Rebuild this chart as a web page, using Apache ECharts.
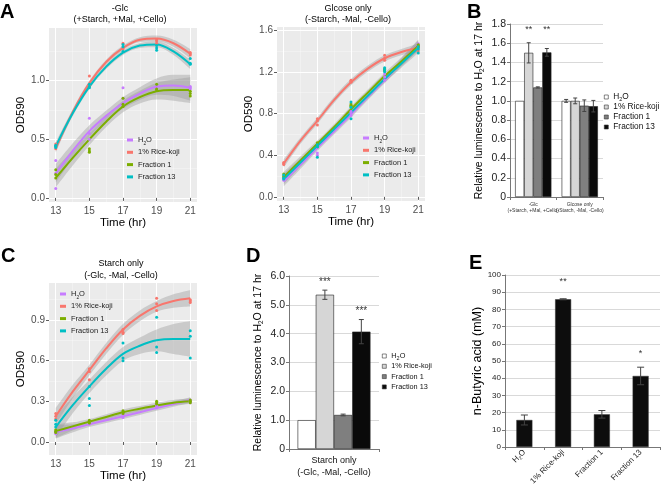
<!DOCTYPE html>
<html>
<head>
<meta charset="utf-8">
<script src="https://cdn.jsdelivr.net/npm/echarts@6/dist/echarts.min.js"></script>
<style>html,body{margin:0;padding:0;background:#fff}#main{width:661px;height:490px}</style>
</head>
<body>
<div id="main"></div>
<script>
var FONT = '"Liberation Sans", Arial, Helvetica, sans-serif';
var groups = ['H2O', '1% Rice-koji', 'Fraction 1', 'Fraction 13'];
var lineColors = ['#C77CFF', '#F8766D', '#7CAE00', '#00BFC4'];
var barColors = ['#FFFFFF', '#D6D6D6', '#7F7F7F', '#0A0A0A'];

// time axis
var sampleTimes = [13, 15, 17, 19, 21];
var fitTimes = [13, 14, 15, 16, 17, 18, 19, 20, 21];
var timeTicks = [13, 15, 17, 19, 21];
var timeMinor = [14, 16, 18, 20];

// ---- A left: -Glc (+Starch, +Mal, +Cello)
var a1Ticks = [0, 0.5, 1.0];
var a1Minor = [0.25, 0.75, 1.25];
var a1PtsH2O = [[0.32, 0.21, 0.08], [0.68, 0.55, 0.50], [0.94, 0.85, 0.80], [0.95, 0.93, 0.96], [0.94, 0.93, 0.95]];
var a1PtsRice = [[0.42, 0.44, 0.46], [1.04, 0.96, 0.95], [1.32, 1.28, 1.27], [1.32, 1.35, 1.34], [1.23, 1.22, 1.24]];
var a1PtsF1 = [[0.24, 0.20, 0.17], [0.42, 0.40, 0.39], [0.85, 0.80, 0.78], [0.97, 0.92, 0.93], [0.89, 0.87, 0.91]];
var a1PtsF13 = [[0.45, 0.43, 0.44], [0.97, 0.95, 0.94], [1.31, 1.29, 1.25], [1.28, 1.26, 1.30], [1.19, 1.14, 1.15]];
var a1FitH2O = [0.21, 0.40, 0.57, 0.70, 0.81, 0.89, 0.95, 0.96, 0.94];
var a1FitRice = [0.42, 0.73, 0.98, 1.16, 1.28, 1.35, 1.36, 1.32, 1.23];
var a1FitF1 = [0.17, 0.34, 0.50, 0.65, 0.78, 0.86, 0.91, 0.92, 0.92];
var a1FitF13 = [0.44, 0.72, 0.95, 1.12, 1.24, 1.30, 1.31, 1.25, 1.14];
var a1SeH2O = [0.08, 0.065, 0.05, 0.045, 0.05, 0.055, 0.07, 0.09, 0.11];
var a1SeRice = [0.035, 0.025, 0.02, 0.02, 0.02, 0.02, 0.025, 0.03, 0.04];
var a1SeF1 = [0.08, 0.065, 0.05, 0.045, 0.05, 0.055, 0.07, 0.09, 0.11];
var a1SeF13 = [0.035, 0.025, 0.02, 0.02, 0.02, 0.02, 0.025, 0.03, 0.04];

// ---- A right: Glcose only (-Starch, -Mal, -Cello)
var a2Ticks = [0, 0.4, 0.8, 1.2, 1.6];
var a2Minor = [0.2, 0.6, 1.0, 1.4];
var a2PtsH2O = [[0.17, 0.18, 0.16], [0.42, 0.40, 0.47], [0.82, 0.80, 0.78], [1.18, 1.15, 1.12], [1.47, 1.45, 1.43]];
var a2PtsRice = [[0.33, 0.32, 0.31], [0.73, 0.69, 0.75], [1.12, 1.10, 1.11], [1.36, 1.33, 1.31], [1.42, 1.40, 1.43]];
var a2PtsF1 = [[0.22, 0.20, 0.19], [0.50, 0.48, 0.52], [0.88, 0.87, 0.89], [1.22, 1.21, 1.23], [1.46, 1.44, 1.45]];
var a2PtsF13 = [[0.21, 0.18, 0.17], [0.38, 0.48, 0.50], [0.91, 0.75, 0.86], [1.24, 1.22, 1.20], [1.38, 1.42, 1.44]];
var a2FitH2O = [0.15, 0.31, 0.47, 0.63, 0.79, 0.96, 1.12, 1.29, 1.46];
var a2FitRice = [0.32, 0.54, 0.73, 0.93, 1.10, 1.23, 1.33, 1.39, 1.43];
var a2FitF1 = [0.19, 0.35, 0.51, 0.67, 0.84, 1.00, 1.16, 1.30, 1.45];
var a2FitF13 = [0.17, 0.33, 0.49, 0.65, 0.81, 0.97, 1.13, 1.28, 1.43];
var a2SeH2O = [0.05, 0.04, 0.03, 0.03, 0.03, 0.03, 0.03, 0.04, 0.05];
var a2SeRice = [0.04, 0.03, 0.03, 0.03, 0.03, 0.03, 0.03, 0.03, 0.04];
var a2SeF1 = [0.05, 0.04, 0.03, 0.03, 0.03, 0.03, 0.03, 0.04, 0.05];
var a2SeF13 = [0.05, 0.04, 0.03, 0.03, 0.03, 0.03, 0.03, 0.04, 0.05];

// ---- C: Starch only (-Glc, -Mal, -Cello)
var cTicks = [0, 0.3, 0.6, 0.9];
var cMinor = [0.15, 0.45, 0.75, 1.05];
var cPtsH2O = [[0.07, 0.08, 0.06], [0.14, 0.13, 0.15], [0.18, 0.20, 0.21], [0.26, 0.25, 0.27], [0.30, 0.31, 0.29]];
var cPtsRice = [[0.21, 0.19, 0.17], [0.52, 0.46, 0.54], [0.83, 0.81, 0.80], [1.06, 1.02, 0.97], [1.04, 1.03, 1.05]];
var cPtsF1 = [[0.08, 0.09, 0.07], [0.15, 0.16, 0.14], [0.22, 0.21, 0.23], [0.30, 0.29, 0.28], [0.29, 0.30, 0.31]];
var cPtsF13 = [[0.16, 0.13, 0.11], [0.32, 0.27, 0.41], [0.73, 0.60, 0.62], [0.92, 0.66, 0.70], [0.82, 0.62, 0.78]];
var cFitH2O = [0.075, 0.10, 0.13, 0.16, 0.19, 0.22, 0.25, 0.28, 0.31];
var cFitRice = [0.19, 0.37, 0.53, 0.69, 0.83, 0.93, 1.00, 1.04, 1.06];
var cFitF1 = [0.08, 0.115, 0.15, 0.185, 0.22, 0.245, 0.27, 0.29, 0.30];
var cFitF13 = [0.11, 0.27, 0.41, 0.54, 0.65, 0.71, 0.75, 0.76, 0.76];
var cSeH2O = [0.05, 0.03, 0.02, 0.02, 0.02, 0.02, 0.02, 0.02, 0.02];
var cSeRice = [0.06, 0.05, 0.04, 0.04, 0.04, 0.04, 0.04, 0.05, 0.06];
var cSeF1 = [0.05, 0.03, 0.02, 0.02, 0.02, 0.02, 0.02, 0.02, 0.02];
var cSeF13 = [0.08, 0.06, 0.05, 0.05, 0.05, 0.06, 0.08, 0.11, 0.13];

// ---- B: relative luminescence
var bCats = ['-Glc\n(+Starch, +Mal, +Cello)', 'Glcose only\n(-Starch, -Mal, -Cello)'];
var bH2O = [1.0, 1.0], bH2OErr = [0, 0.015];
var bRice = [1.5, 1.0], bRiceErr = [0.105, 0.03];
var bF1 = [1.14, 0.95], bF1Err = [0.006, 0.06];
var bF13 = [1.505, 0.945], bF13Err = [0.04, 0.06];
var bStarsRice = ['**', ''], bStarsF13 = ['**', ''];
var bStarLevel = [1.74, 0];

// ---- D: starch only luminescence
var dCats = ['Starch only\n(-Glc, -Mal, -Cello)'];
var dH2O = [1.0], dH2OErr = [0];
var dRice = [5.35], dRiceErr = [0.16];
var dF1 = [1.18], dF1Err = [0.03];
var dF13 = [4.07], dF13Err = [0.42];
var dStarsRice = ['***'], dStarsF13 = ['***'];
var dStarRice = [5.79], dStarF13 = [4.79];

// ---- E: n-butyric acid
var eCats = ['H2O', '1% Rice-koji', 'Fraction 1', 'Fraction 13'];
var eVals = [15.7, 85.9, 19.0, 41.3];
var eErr = [2.9, 0.3, 2.2, 5.1];
var eStars = ['', '**', '', '*'];
var eStarLevel = [0, 96, 0, 54.5];

function subRich(fs) {
  return {
    n: { fontFamily: FONT, fontSize: fs, lineHeight: 12 },
    s: { fontFamily: FONT, fontSize: fs * 0.65, lineHeight: 6, verticalAlign: 'bottom' }
  };
}
function richName(name) {
  name = name.replace('bar:', '');
  if (name === 'H2O') return '{n|H}{s|2}{n|O}';
  return '{n|' + name + '}';
}

function ggAxes(grid, min, max, ticks, minor, name, isX) {
  var main = {
    type: 'value', gridIndex: grid, min: min, max: max,
    axisLine: { show: false },
    axisTick: { show: true, length: 3, customValues: ticks, lineStyle: { color: '#333', width: 0.8 } },
    axisLabel: {
      customValues: ticks, color: '#4D4D4D', fontSize: 10, margin: 4, fontFamily: FONT,
      formatter: isX ? function (v) { return String(v); } : function (v) { return v.toFixed(1); }
    },
    splitLine: { show: true, lineStyle: { color: '#fff', width: 1 } },
    name: name, nameLocation: 'middle', nameGap: isX ? 14 : 22,
    nameTextStyle: { fontSize: 11.5, color: '#000', fontFamily: FONT }
  };
  var mnr = {
    type: 'value', gridIndex: grid, min: min, max: max, position: isX ? 'top' : 'right',
    axisLine: { show: false },
    axisTick: { show: false, customValues: minor },
    axisLabel: { show: false, customValues: minor },
    splitLine: { show: true, lineStyle: { color: 'rgba(255,255,255,0.6)', width: 0.5 } }
  };
  return [main, mnr];
}
// hidden axes of the ribbon grid: category over fit times, same value range
function ribbonAxes(grid, min, max) {
  return [
    { type: 'category', gridIndex: grid, data: fitTimes.map(String), boundaryGap: false, show: false },
    { type: 'value', gridIndex: grid, min: min, max: max, show: false, splitLine: { show: false } }
  ];
}

function ptsData(pts) {
  var d = [];
  sampleTimes.forEach(function (t, i) {
    pts[i].forEach(function (v) { d.push([t, v]); });
  });
  return d;
}

function smoothPanel(key, xi, yi, rxi, ryi, fits, ses, pts) {
  var out = [];
  groups.forEach(function (g, k) {
    out.push({
      type: 'line', name: 'ci-lo', xAxisIndex: rxi, yAxisIndex: ryi, stack: key + k,
      data: fitTimes.map(function (t, i) { return +(fits[k][i] - ses[k][i]).toFixed(4); }),
      smooth: 0.35, symbol: 'none', lineStyle: { opacity: 0 }, silent: true, z: 1
    });
    out.push({
      type: 'line', name: 'ci', xAxisIndex: rxi, yAxisIndex: ryi, stack: key + k, stackStrategy: 'all',
      data: fitTimes.map(function (t, i) { return +(2 * ses[k][i]).toFixed(4); }),
      smooth: 0.35, symbol: 'none', lineStyle: { opacity: 0 },
      areaStyle: { color: 'rgba(153,153,153,0.4)', opacity: 1 }, silent: true, z: 1
    });
  });
  groups.forEach(function (g, k) {
    out.push({
      type: 'line', name: g, xAxisIndex: xi, yAxisIndex: yi,
      data: fitTimes.map(function (t, i) { return [t, fits[k][i]]; }),
      smooth: 0.35, symbol: 'none', itemStyle: { color: lineColors[k] },
      lineStyle: { color: lineColors[k], width: 2 }, z: 3
    });
  });
  groups.forEach(function (g, k) {
    out.push({
      type: 'scatter', name: 'pt', xAxisIndex: xi, yAxisIndex: yi,
      data: ptsData(pts[k]), symbolSize: 3, itemStyle: { color: lineColors[k], opacity: 1 }, z: 4, silent: true
    });
  });
  return out;
}

function errSeries(xi, yi, vals, errs, k, n, gap, capW, stars, starLv, starSize) {
  return {
    type: 'custom', xAxisIndex: xi, yAxisIndex: yi, z: 10, silent: true,
    data: vals.map(function (v, i) { return [i, v, errs[i]]; }),
    renderItem: function (params, api) {
      var i = api.value(0), v = api.value(1), e = api.value(2);
      var c = api.coord([i, v]);
      var bw = api.size([1, 0])[0];
      var gw = bw * (1 - gap);
      var x = c[0] - gw / 2 + gw / n * (k + 0.5);
      var ch = [];
      if (e > 0) {
        var t = api.coord([i, v + e])[1], b = api.coord([i, v - e])[1];
        var st = { stroke: '#444', lineWidth: 1 };
        ch.push({ type: 'line', shape: { x1: x, y1: t, x2: x, y2: b }, style: st });
        ch.push({ type: 'line', shape: { x1: x - capW / 2, y1: t, x2: x + capW / 2, y2: t }, style: st });
        ch.push({ type: 'line', shape: { x1: x - capW / 2, y1: b, x2: x + capW / 2, y2: b }, style: st });
      }
      var s = stars ? stars[params.dataIndex] : '';
      if (s) {
        var sy = api.coord([i, starLv[params.dataIndex]])[1];
        ch.push({ type: 'text', style: { x: x, y: sy, text: s, fill: '#333', font: starSize + 'px ' + FONT, align: 'center', verticalAlign: 'middle' } });
      }
      return { type: 'group', children: ch };
    }
  };
}

function barAxisY(grid, max, interval, fs, name, nameGap, nameFs) {
  return {
    type: 'value', gridIndex: grid, min: 0, max: max, interval: interval,
    axisLine: { show: true, lineStyle: { color: '#777', width: 1 } },
    axisTick: { show: true, length: 3, lineStyle: { color: '#777' } },
    axisLabel: { color: '#222', fontSize: fs, fontFamily: FONT, margin: 4,
      formatter: function (v) { return (interval < 5 && v !== 0) ? v.toFixed(1) : String(v); } },
    splitLine: { show: true, lineStyle: { color: '#D9D9D9', width: 1 } },
    name: name, nameLocation: 'middle', nameGap: nameGap,
    nameTextStyle: { fontSize: nameFs, color: '#000', fontFamily: FONT,
      rich: { n: { fontSize: nameFs, fontFamily: FONT, lineHeight: 14 }, s: { fontSize: nameFs * 0.62, fontFamily: FONT, lineHeight: 8, verticalAlign: 'bottom' } } }
  };
}
function barAxisX(grid, cats, labelOpt) {
  return {
    type: 'category', gridIndex: grid, data: cats,
    axisLine: { show: true, lineStyle: { color: '#777', width: 1 } },
    axisTick: { show: true, length: 3, lineStyle: { color: '#777' } },
    axisLabel: labelOpt
  };
}

var xA1 = ggAxes(0, 12.6, 21.4, timeTicks, timeMinor, 'Time (hr)', true);
var yA1 = ggAxes(0, -0.035, 1.45, a1Ticks, a1Minor, 'OD590', false);
var xA2 = ggAxes(1, 12.6, 21.4, timeTicks, timeMinor, 'Time (hr)', true);
var yA2 = ggAxes(1, -0.04, 1.63, a2Ticks, a2Minor, 'OD590', false);
var xC = ggAxes(3, 12.6, 21.4, timeTicks, timeMinor, 'Time (hr)', true);
var yC = ggAxes(3, -0.096, 1.173, cTicks, cMinor, 'OD590', false);
var rA1 = ribbonAxes(6, -0.035, 1.45);
var rA2 = ribbonAxes(7, -0.04, 1.63);
var rC = ribbonAxes(8, -0.096, 1.173);

var lumName = '{n|Relative luminescence to H}{s|2}{n|O at 17 hr}';

var xAxes = [xA1[0], xA1[1], xA2[0], xA2[1],
  barAxisX(2, bCats, { color: '#333', fontSize: 5, lineHeight: 6, margin: 5, fontFamily: FONT, interval: 0 }),
  xC[0], xC[1],
  barAxisX(4, dCats, { color: '#111', fontSize: 9, lineHeight: 11.5, margin: 6, fontFamily: FONT }),
  barAxisX(5, eCats, { color: '#222', fontSize: 8, margin: 4, rotate: 45, interval: 0, fontFamily: FONT,
    formatter: function (v) { return v === 'H2O' ? '{n|H}{s|2}{n|O}' : '{n|' + v + '}'; },
    rich: { n: { fontSize: 8, fontFamily: FONT, lineHeight: 10 }, s: { fontSize: 5, fontFamily: FONT, lineHeight: 5, verticalAlign: 'bottom' } } }),
  rA1[0], rA2[0], rC[0]
];
var yAxes = [yA1[0], yA1[1], yA2[0], yA2[1],
  barAxisY(2, 1.8, 0.2, 10.5, lumName, 24, 10.5),
  yC[0], yC[1],
  barAxisY(4, 6, 1, 10.5, lumName, 24, 10.5),
  barAxisY(5, 100, 10, 8, 'n-Butyric acid (mM)', 18, 12.5),
  rA1[1], rA2[1], rC[1]
];

var series = [];
series = series.concat(smoothPanel('a1', 0, 0, 9, 9,
  [a1FitH2O, a1FitRice, a1FitF1, a1FitF13], [a1SeH2O, a1SeRice, a1SeF1, a1SeF13], [a1PtsH2O, a1PtsRice, a1PtsF1, a1PtsF13]));
series = series.concat(smoothPanel('a2', 2, 2, 10, 10,
  [a2FitH2O, a2FitRice, a2FitF1, a2FitF13], [a2SeH2O, a2SeRice, a2SeF1, a2SeF13], [a2PtsH2O, a2PtsRice, a2PtsF1, a2PtsF13]));
series = series.concat(smoothPanel('c', 5, 5, 11, 11,
  [cFitH2O, cFitRice, cFitF1, cFitF13], [cSeH2O, cSeRice, cSeF1, cSeF13], [cPtsH2O, cPtsRice, cPtsF1, cPtsF13]));

var bVals = [bH2O, bRice, bF1, bF13], bErrs = [bH2OErr, bRiceErr, bF1Err, bF13Err];
var dVals = [dH2O, dRice, dF1, dF13], dErrs = [dH2OErr, dRiceErr, dF1Err, dF13Err];
var bGap = 0.22, dGap = 0.19;
groups.forEach(function (g, k) {
  series.push({ type: 'bar', name: 'bar:' + g, xAxisIndex: 4, yAxisIndex: 4, data: bVals[k],
    barGap: '0%', barCategoryGap: (bGap * 100) + '%',
    itemStyle: { color: barColors[k], borderColor: '#222', borderWidth: 0.6 }, silent: true });
  series.push({ type: 'bar', name: 'bar:' + g, xAxisIndex: 7, yAxisIndex: 7, data: dVals[k],
    barGap: '0%', barCategoryGap: (dGap * 100) + '%',
    itemStyle: { color: barColors[k], borderColor: '#222', borderWidth: 0.6 }, silent: true });
});
groups.forEach(function (g, k) {
  series.push(errSeries(4, 4, bVals[k], bErrs[k], k, 4, bGap, 4,
    k === 1 ? bStarsRice : (k === 3 ? bStarsF13 : null), bStarLevel, 9));
  series.push(errSeries(7, 7, dVals[k], dErrs[k], k, 4, dGap, 5,
    k === 1 ? dStarsRice : (k === 3 ? dStarsF13 : null), k === 1 ? dStarRice : dStarF13, 10));
});
series.push({ type: 'bar', name: 'butyric', xAxisIndex: 8, yAxisIndex: 8, data: eVals, barWidth: 16,
  itemStyle: { color: '#0D0D0D', borderColor: '#333', borderWidth: 0.5 }, silent: true });
series.push(errSeries(8, 8, eVals, eErr, 0, 1, 0.587, 7, eStars, eStarLevel, 9));

function lineLegend(left, top) {
  return {
    data: groups, left: left, top: top, orient: 'vertical', padding: 0,
    icon: 'rect', itemWidth: 6, itemHeight: 3, itemGap: 0.3, selectedMode: false,
    textStyle: { fontSize: 7.5, color: '#222', fontFamily: FONT, lineHeight: 12, rich: subRich(7.5) },
    formatter: richName
  };
}
function barLegend(left, top, fs, gap) {
  return {
    data: groups.map(function (g) { return 'bar:' + g; }), left: left, top: top, orient: 'vertical', padding: 0,
    icon: 'rect', itemWidth: 4, itemHeight: 4, itemGap: gap, selectedMode: false,
    itemStyle: { borderColor: '#333', borderWidth: 0.6 },
    textStyle: { fontSize: fs, color: '#111', fontFamily: FONT, lineHeight: 10,
      rich: { n: { fontSize: fs, fontFamily: FONT, lineHeight: 10 }, s: { fontSize: 5.5, fontFamily: FONT, lineHeight: 5, verticalAlign: 'bottom' } } },
    formatter: richName
  };
}

function txt(x, y, s, font, align, va) {
  return { type: 'text', x: x, y: y, silent: true,
    style: { text: s, font: font, fill: '#000', textAlign: align, align: align, textVerticalAlign: va, verticalAlign: va } };
}
var tf = '9px ' + FONT, lf = 'bold 20px ' + FONT;

var option = {
  animation: false,
  textStyle: { fontFamily: FONT },
  grid: [
    { left: 49, top: 28, width: 148, height: 174, show: true, backgroundColor: '#EBEBEB', borderWidth: 0 },
    { left: 277, top: 27, width: 148, height: 174, show: true, backgroundColor: '#EBEBEB', borderWidth: 0 },
    { left: 510, top: 24, width: 93, height: 173 },
    { left: 49, top: 283, width: 148, height: 172, show: true, backgroundColor: '#EBEBEB', borderWidth: 0 },
    { left: 289, top: 276, width: 90, height: 173 },
    { left: 505, top: 275, width: 155, height: 172 },
    // ribbon grids: span exactly 13..21 hr of the panels above
    { left: 49 + 148 * 0.4 / 8.8, top: 28, width: 148 * 8 / 8.8, height: 174 },
    { left: 277 + 148 * 0.4 / 8.8, top: 27, width: 148 * 8 / 8.8, height: 174 },
    { left: 49 + 148 * 0.4 / 8.8, top: 283, width: 148 * 8 / 8.8, height: 172 }
  ],
  xAxis: xAxes,
  yAxis: yAxes,
  legend: [lineLegend(127, 134), lineLegend(363, 132), lineLegend(60, 288),
    barLegend(604, 92, 8.3, 0), barLegend(382, 351, 7.3, 0.3)],
  series: series,
  graphic: [
    txt(0, 2, 'A', lf, 'left', 'top'),
    txt(467, 2, 'B', lf, 'left', 'top'),
    txt(1, 246, 'C', lf, 'left', 'top'),
    txt(246, 246, 'D', lf, 'left', 'top'),
    txt(469, 253, 'E', lf, 'left', 'top'),
    txt(120, 8.5, '-Glc', tf, 'center', 'middle'),
    txt(120, 20, '(+Starch, +Mal, +Cello)', tf, 'center', 'middle'),
    txt(348, 8.5, 'Glcose only', tf, 'center', 'middle'),
    txt(348, 20, '(-Starch, -Mal, -Cello)', tf, 'center', 'middle'),
    txt(121, 264, 'Starch only', tf, 'center', 'middle'),
    txt(121, 276, '(-Glc, -Mal, -Cello)', tf, 'center', 'middle')
  ]
};

var myChart = echarts.init(document.getElementById('main'));
myChart.setOption(option);
</script>
</body>
</html>
